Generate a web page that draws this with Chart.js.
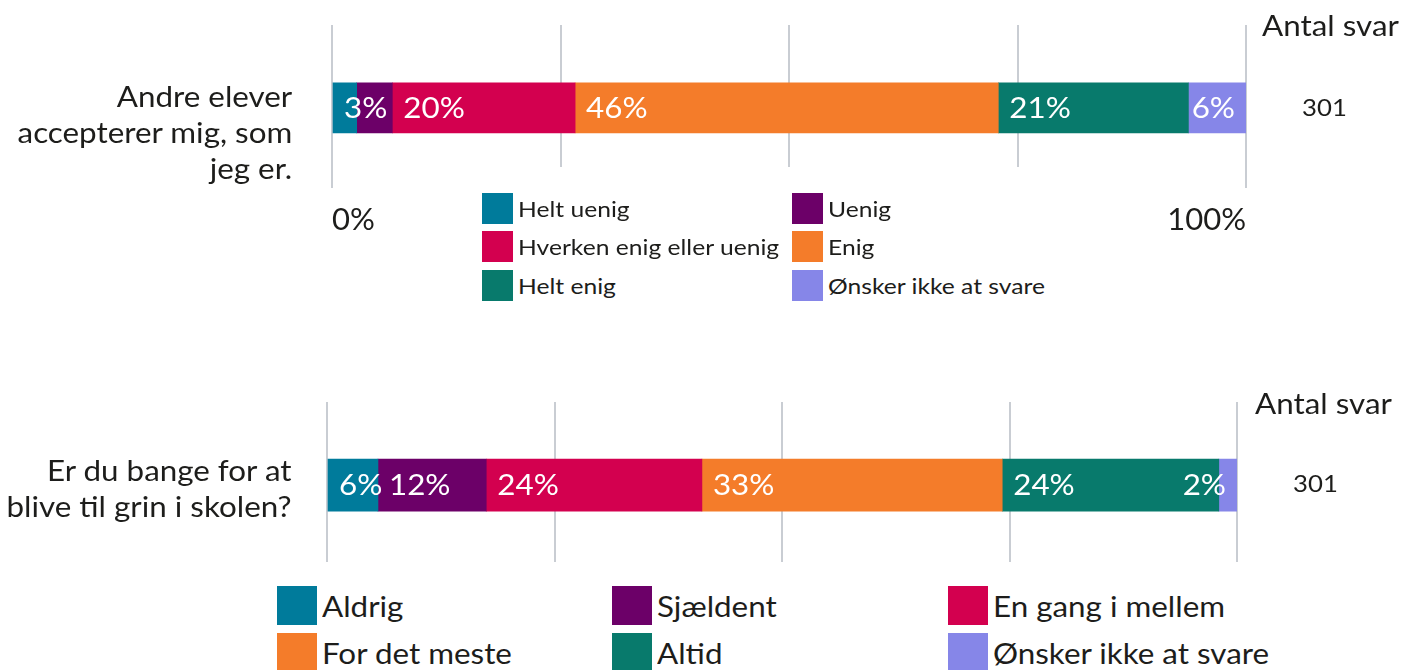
<!DOCTYPE html>
<html>
<head>
<meta charset="utf-8">
<script src="https://cdn.jsdelivr.net/npm/chart.js@4/dist/chart.umd.min.js"></script>
<style>
  html, body { margin: 0; padding: 0; background: #fff; }
  body { width: 1409px; height: 670px; position: relative; overflow: hidden; font-family: Lato, "Open Sans", sans-serif; color: #1d1d1b; }
  canvas { position: absolute; left: 0; }
  .cat { position: absolute; right: 1117px; text-align: right; font-size: 28px; line-height: 36px; white-space: nowrap; transform: scaleX(1.12); transform-origin: right center; }
  .abs { position: absolute; white-space: nowrap; transform: scaleX(1.12); transform-origin: left center; }
  .lg { position: absolute; display: flex; align-items: center; white-space: nowrap; }
  .sw { display: inline-block; flex: none; }
  .lt { display: inline-block; transform: scaleX(1.12); transform-origin: left center; }
</style>
</head>
<body>
<canvas id="c1"></canvas>
<canvas id="c2"></canvas>
<div id="overlay"></div>
<script>
// ---------- data ----------
const colors = ["#007b9b", "#6c0068", "#d3004f", "#f47c2a", "#087a6c", "#8686e8"];

const q1Category = ["Andre elever", "accepterer mig, som", "jeg er."];
const q1Series = ["Helt uenig", "Uenig", "Hverken enig eller uenig", "Enig", "Helt enig", "Ønsker ikke at svare"];
const q1Values = [2.7, 3.9, 20.0, 46.3, 20.8, 6.3];
const q1Count = "301";

const q2Category = ["Er du bange for at", "blive til grin i skolen?"];
const q2Series = ["Aldrig", "Sjældent", "En gang i mellem", "For det meste", "Altid", "Ønsker ikke at svare"];
const q2Values = [5.6, 11.9, 23.7, 33.0, 23.8, 2.0];
const q2Count = "301";

const countTitle = "Antal svar";
const xTickValues = [0, 25, 50, 75, 100];
const xTickShown = ["0%", "", "", "", "100%"];

// ---------- helpers ----------
const FONT = "Lato, 'Open Sans', sans-serif";
const GRID = "#c9cdd3";
const STRETCH = 1.12;

const segLabels = {
  id: "segLabels",
  afterDatasetsDraw(chart) {
    const ctx = chart.ctx;
    const right = chart.chartArea.right;
    ctx.save();
    ctx.font = "28px " + FONT;
    ctx.fillStyle = "#ffffff";
    ctx.textBaseline = "middle";
    ctx.textAlign = "left";
    let lastEnd = -Infinity;
    chart.data.datasets.forEach((ds, i) => {
      const el = chart.getDatasetMeta(i).data[0];
      if (!el) return;
      const txt = Math.round(ds.data[0].x) + "%";
      const w = ctx.measureText(txt).width * STRETCH;
      let x = Math.min(el.base, el.x) + 11;
      if (x + w > right - 11) x = right - 11 - w;
      if (x < lastEnd + 2) return;
      ctx.save();
      ctx.translate(x, el.y + 1);
      ctx.scale(STRETCH, 1);
      ctx.fillText(txt, 0, 0);
      ctx.restore();
      lastEnd = x + w;
    });
    ctx.restore();
  }
};

function makeChart(id, top, height, series, values, opts) {
  const cv = document.getElementById(id);
  cv.style.top = top + "px";
  cv.width = 1409; cv.height = height;
  cv.style.width = "1409px"; cv.style.height = height + "px";
  return new Chart(cv, {
    type: "bar",
    data: {
      datasets: series.map((s, i) => ({
        label: s,
        data: [{ x: values[i], y: 0 }],
        backgroundColor: colors[i],
        borderWidth: 0,
        barThickness: opts.barThickness
      }))
    },
    options: {
      indexAxis: "y",
      responsive: false,
      animation: false,
      events: [],
      layout: { padding: opts.padding },
      plugins: { legend: { display: false }, tooltip: { enabled: false } },
      scales: {
        x: {
          type: "linear", stacked: true, min: 0, max: 100,
          border: { display: false },
          grid: {
            color: GRID, lineWidth: 2,
            drawTicks: opts.showTicks,
            tickLength: 21,
            tickColor: (c) => (c.tick && (c.tick.value === 0 || c.tick.value === 100)) ? GRID : "rgba(0,0,0,0)",
            tickWidth: 2
          },
          afterBuildTicks: (s) => { s.ticks = xTickValues.map(v => ({ value: v })); },
          afterFit: (s) => { s.height = opts.axisHeight; },
          ticks: {
            display: opts.showTicks,
            align: "inner",
            padding: 13,
            color: "#1d1d1b",
            font: { family: FONT, size: 31 },
            callback: (v) => xTickShown[xTickValues.indexOf(v)] ?? ""
          }
        },
        y: {
          type: "linear", stacked: true, display: false,
          min: opts.yMin, max: opts.yMax
        }
      }
    },
    plugins: [segLabels]
  });
}

makeChart("c1", 0, 239, q1Series, q1Values, {
  barThickness: 50, padding: { left: 332, right: 163, top: 25, bottom: 0 },
  showTicks: true, axisHeight: 72, yMin: -0.40, yMax: 0.60
});
makeChart("c2", 380, 190, q2Series, q2Values, {
  barThickness: 52, padding: { left: 327, right: 172, top: 22, bottom: 8 },
  showTicks: false, axisHeight: 0, yMin: -0.476, yMax: 0.524
});

// ---------- text overlays ----------
const ov = document.getElementById("overlay");
function addDiv(cls, html, style) {
  const d = document.createElement("div");
  d.className = cls; d.innerHTML = html;
  Object.assign(d.style, style);
  ov.appendChild(d);
  return d;
}
addDiv("cat", q1Category.join("<br>"), { top: "78px" });
addDiv("cat", q2Category.join("<br>"), { top: "452px" });
addDiv("abs", countTitle, { left: "1262px", top: "7px", fontSize: "28px", lineHeight: "36px" });
addDiv("abs", q1Count, { left: "1302px", top: "93px", fontSize: "23px", lineHeight: "28px" });
addDiv("abs", countTitle, { left: "1255px", top: "385px", fontSize: "28px", lineHeight: "36px" });
addDiv("abs", q2Count, { left: "1293px", top: "469px", fontSize: "23px", lineHeight: "28px" });

function legend(series, cols, xs, ys, sw, fontSize, gap) {
  series.forEach((s, i) => {
    const c = i % cols, r = Math.floor(i / cols);
    addDiv("lg",
      `<span class="sw" style="width:${sw[0]}px;height:${sw[1]}px;background:${colors[i]}"></span><span class="lt" style="margin-left:${gap}px">${s}</span>`,
      { left: xs[c] + "px", top: ys[r] + "px", fontSize: fontSize + "px", height: sw[1] + "px" });
  });
}
legend(q1Series, 2, [482, 792], [193, 231, 270], [31, 31], 22, 5);
legend(q2Series, 3, [277, 612, 948], [586, 633], [40, 39], 28, 5);
</script>
</body>
</html>
